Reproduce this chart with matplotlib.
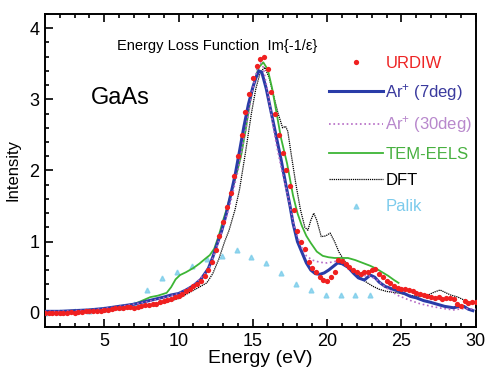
import matplotlib
matplotlib.use("Agg")
import matplotlib.pyplot as plt
import numpy as np
from matplotlib.ticker import MultipleLocator

plt.rcParams['font.family'] = ['Liberation Sans', 'DejaVu Sans']
plt.rcParams['mathtext.default'] = 'regular'

# URDIW (red dots), 0.25 eV grid from 1 to 30 eV
urdiw_e = np.arange(1.0, 30.01, 0.25)
urdiw_i = [0.0, 0.0, 0.0, -0.01, 0.0, 0.0, 0.0, 0.01, 0.0, 0.01, 0.01, 0.02,
           0.02, 0.02, 0.03, 0.03, 0.04, 0.04, 0.05, 0.06, 0.07, 0.07, 0.08, 0.08,
           0.07, 0.08, 0.09, 0.11, 0.11, 0.12, 0.13, 0.15, 0.16, 0.18, 0.2, 0.22,
           0.24, 0.27, 0.3, 0.33, 0.37, 0.41, 0.45, 0.52, 0.6, 0.72, 0.88, 1.08,
           1.28, 1.48, 1.68, 1.92, 2.2, 2.5, 2.82, 3.08, 3.3, 3.47, 3.57, 3.59,
           3.42, 3.1, 2.8, 2.5, 2.25, 2.0, 1.78, 1.45, 1.15, 1.0, 0.9, 0.72,
           0.63, 0.57, 0.5, 0.46, 0.44, 0.5, 0.58, 0.74, 0.73, 0.68, 0.64, 0.6,
           0.57, 0.55, 0.58, 0.57, 0.6, 0.62, 0.55, 0.5, 0.44, 0.42, 0.37, 0.35,
           0.34, 0.33, 0.32, 0.3, 0.28, 0.27, 0.25, 0.24, 0.22, 0.21, 0.22, 0.2,
           0.21, 0.21, 0.19, 0.12, 0.1, 0.16, 0.14, 0.15, 0.15]

# Ar+ (7deg)
ar7_e = [1, 2, 3, 4, 5, 6, 7, 8, 9, 9.5, 10, 10.5, 11, 11.5, 12, 12.3, 12.6, 12.9,
         13.2, 13.5, 13.8, 14.1, 14.4, 14.7, 15.0, 15.2, 15.4, 15.6, 15.9, 16.2,
         16.5, 16.9, 17.2, 17.5, 17.7, 18.0, 18.3, 18.6, 18.9, 19.2, 19.5, 19.8,
         20.1, 20.4, 20.7, 21.0, 21.4, 21.8, 22.1, 22.5, 22.9, 23.2, 23.5, 23.9,
         24.3, 24.7, 25.2, 25.6, 26.0, 26.5, 26.9, 27.4, 27.9, 28.2, 28.5, 28.9,
         29.2, 29.5, 29.8]
ar7_i = [0.02, 0.02, 0.03, 0.04, 0.06, 0.09, 0.12, 0.17, 0.22, 0.25, 0.27, 0.32,
         0.38, 0.47, 0.62, 0.78, 0.97, 1.15, 1.38, 1.65, 1.93, 2.27, 2.62, 2.93,
         3.17, 3.3, 3.4, 3.38, 3.15, 2.85, 2.55, 2.15, 1.82, 1.5, 1.26, 1.0, 0.85,
         0.7, 0.6, 0.55, 0.54, 0.56, 0.6, 0.65, 0.7, 0.69, 0.64, 0.55, 0.49, 0.46,
         0.53, 0.5, 0.43, 0.37, 0.34, 0.31, 0.27, 0.23, 0.21, 0.17, 0.15, 0.12,
         0.09, 0.08, 0.07, 0.09, 0.09, 0.05, 0.03]

# Ar+ (30deg)
ar30_e = [1, 2, 3, 4, 5, 6, 7, 8, 9, 10, 11, 12, 12.5, 13, 13.5, 14, 14.5, 15.0,
          15.3, 15.5, 15.7, 16.0, 16.3, 16.6, 17.0, 17.4, 17.8, 18.2, 18.6, 19.0,
          19.5, 20.0, 20.5, 20.9, 21.3, 21.8, 22.3, 22.8, 23.3, 23.8, 24.3, 24.8,
          25.5, 26.2, 27.0, 27.8, 28.5, 29.2, 30.0]
ar30_i = [0.02, 0.02, 0.03, 0.04, 0.06, 0.09, 0.12, 0.16, 0.21, 0.27, 0.38, 0.6,
          0.88, 1.2, 1.55, 2.0, 2.55, 3.15, 3.45, 3.52, 3.45, 3.1, 2.7, 2.35,
          1.95, 1.6, 1.2, 0.95, 0.8, 0.74, 0.71, 0.7, 0.72, 0.74, 0.68, 0.6,
          0.52, 0.52, 0.47, 0.38, 0.3, 0.24, 0.18, 0.13, 0.09, 0.06, 0.04, 0.06,
          0.05]

# TEM-EELS
eels_e = [1, 2, 3, 4, 5, 6, 7, 8.1, 8.6, 9.2, 9.5, 9.8, 10.1, 10.5, 11.0, 11.4,
          11.8, 12.1, 12.4, 12.7, 13.0, 13.3, 13.6, 13.9, 14.2, 14.5, 14.8, 15.1,
          15.4, 15.7, 16.0, 16.3, 16.6, 16.9, 17.3, 17.7, 18.0, 18.3, 18.6, 18.9,
          19.3, 19.7, 20.1, 20.5, 21.0, 21.4, 21.9, 22.4, 22.9, 23.3, 23.7, 24.1,
          24.5, 24.8]
eels_i = [0.02, 0.02, 0.03, 0.04, 0.06, 0.09, 0.12, 0.22, 0.24, 0.28, 0.36, 0.47,
          0.53, 0.57, 0.63, 0.69, 0.76, 0.81, 0.9, 1.08, 1.3, 1.5, 1.73, 1.95,
          2.2, 2.55, 2.95, 3.25, 3.45, 3.52, 3.42, 3.15, 2.8, 2.45, 2.1, 1.65, 1.4,
          1.22, 1.08, 0.98, 0.86, 0.8, 0.78, 0.77, 0.77, 0.77, 0.74, 0.7, 0.66,
          0.62, 0.57, 0.52, 0.46, 0.42]

# DFT
dft_e = [1, 2, 3, 4, 5, 6, 7, 8, 9, 10, 10.7, 11.3, 11.9, 12.3, 12.7, 13.1, 13.4,
         13.8, 14.1, 14.5, 14.9, 15.2, 15.5, 15.8, 16.1, 16.4, 16.7, 17.0, 17.2,
         17.35, 17.6, 17.9, 18.2, 18.5, 18.7, 18.9, 19.1, 19.3, 19.6, 19.9, 20.2,
         20.5, 20.8, 21.2, 21.7, 22.2, 22.7, 23.1, 23.5, 24.0, 24.7, 25.4, 26.1,
         26.8, 27.2, 27.6, 28.0, 28.3, 28.8, 29.2, 29.7, 30.0]
dft_i = [0.0, 0.0, 0.01, 0.02, 0.03, 0.05, 0.07, 0.1, 0.14, 0.2, 0.28, 0.35,
         0.42, 0.55, 0.75, 1.0, 1.16, 1.45, 1.73, 2.25, 2.8, 3.15, 3.38, 3.45,
         3.3, 3.05, 2.8, 2.6, 2.62, 2.55, 2.2, 1.8, 1.45, 1.2, 1.16, 1.3, 1.4,
         1.3, 1.07, 1.08, 1.12, 1.0, 0.85, 0.72, 0.6, 0.5, 0.42, 0.37, 0.33, 0.3,
         0.28, 0.25, 0.23, 0.25, 0.29, 0.32, 0.28, 0.25, 0.22, 0.18, 0.14, 0.13]

# Palik
palik_e = [1, 2, 3, 4, 5, 6, 7, 7.9, 8.9, 9.9, 10.9, 11.9, 12.9, 13.9, 14.9, 15.9,
           16.9, 17.9, 18.9, 19.9, 20.9, 21.9, 22.9]
palik_i = [0.0, 0.01, 0.02, 0.03, 0.05, 0.08, 0.12, 0.32, 0.49, 0.58, 0.66, 0.75,
           0.8, 0.88, 0.79, 0.7, 0.56, 0.4, 0.32, 0.25, 0.25, 0.25, 0.25]

fig = plt.figure(figsize=(4.87, 3.67), dpi=100)
ax = fig.add_axes([0.092, 0.109, 0.885, 0.853])

ax.plot(palik_e, palik_i, '^', color='#7ccdea', ms=3.5, mec='#7ccdea', alpha=0.8,
        label='Palik', zorder=2)
ax.plot(dft_e, dft_i, color='black', lw=0.9, ls=(0, (1, 0.7)), label='DFT', zorder=3)
ax.plot(eels_e, eels_i, color='#3db535', lw=1.3, label='TEM-EELS', zorder=4)
ax.plot(ar7_e, ar7_i, color='#2a3ca8', lw=2.2, label='Ar$^{+}$ (7deg)', zorder=5)
ax.plot(ar30_e, ar30_i, color='#b468c4', lw=1.2, ls=':', label='Ar$^{+}$ (30deg)', zorder=6)
ax.plot(urdiw_e, urdiw_i, 'o', color='#f02020', ms=3.8, mec='none', label='URDIW', zorder=7)

ax.set_xlim(1.0, 30.0)
ax.set_ylim(-0.2, 4.2)
ax.xaxis.set_major_locator(MultipleLocator(5))
ax.xaxis.set_minor_locator(MultipleLocator(1))
ax.yaxis.set_major_locator(MultipleLocator(1))
ax.yaxis.set_minor_locator(MultipleLocator(0.2))
ax.tick_params(which='both', direction='in', top=True, right=False, width=1.2)
ax.tick_params(which='major', length=6, labelsize=13, pad=4)
ax.tick_params(which='minor', length=3)
for s in ax.spines.values():
    s.set_linewidth(1.4)

ax.set_xlabel('Energy (eV)', fontsize=14, labelpad=0)
ax.set_ylabel('Intensity', fontsize=12, labelpad=6)

ax.text(0.4, 0.898, 'Energy Loss Function  Im{-1/\u03b5}', transform=ax.transAxes,
        fontsize=10.5, ha='center', va='center')
ax.text(0.107, 0.73, 'GaAs', transform=ax.transAxes, fontsize=17,
        ha='left', va='center')

handles, labels = ax.get_legend_handles_labels()
order = [5, 3, 4, 2, 1, 0]
leg = ax.legend([handles[i] for i in order], [labels[i] for i in order],
                loc='upper left', bbox_to_anchor=(0.645, 0.888), frameon=False,
                fontsize=12, handlelength=3.2, handletextpad=0.15,
                labelspacing=0.68, numpoints=1, borderaxespad=0)
text_colors = ['#ee2424', '#3a3a9e', '#b888cc', '#48b040', 'black', '#7ccbec']
for t, c in zip(leg.get_texts(), text_colors):
    t.set_color(c)

fig.savefig('out.png', dpi=100)
